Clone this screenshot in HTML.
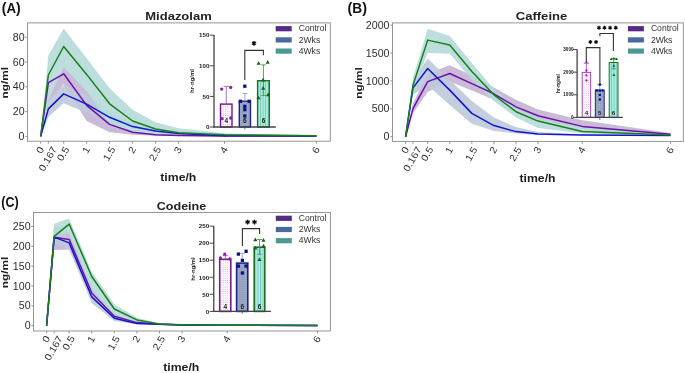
<!DOCTYPE html>
<html><head><meta charset="utf-8"><style>
html,body{margin:0;padding:0;background:#fff;width:685px;height:373px;overflow:hidden}
svg{display:block;will-change:transform}
text{font-family:"Liberation Sans", sans-serif}
</style></head><body>
<svg width="685" height="373" viewBox="0 0 685 373">
<rect width="685" height="373" fill="#fff"/>
<defs>
<pattern id="dotP" width="2.2" height="2.2" patternUnits="userSpaceOnUse"><rect width="2.2" height="2.2" fill="#fbf7fc"/><circle cx="1.1" cy="1.1" r="0.45" fill="#c9a6d6"/></pattern>
<pattern id="dotB" width="2.2" height="2.2" patternUnits="userSpaceOnUse"><rect width="2.2" height="2.2" fill="#96a2bd"/><circle cx="1.1" cy="1.1" r="0.45" fill="#b6c0d4"/></pattern>
<pattern id="strG" width="2.6" height="4" patternUnits="userSpaceOnUse"><rect width="2.6" height="4" fill="#a9ebe2"/><rect x="0" width="0.7" height="4" fill="#6fc3b6"/></pattern>
</defs>
<polygon points="40.7,136.4 48.37,98.95 63.68,66.22 86.65,90.77 109.63,123.38 132.6,131.44 155.57,133.92 178.55,134.91 224.5,135.78 316.4,136.03 316.4,136.28 224.5,136.15 178.55,136.03 155.57,135.78 132.6,134.66 109.63,132.31 86.65,121.02 63.68,84.32 48.37,102.92 40.7,136.4" fill="#c4b3d4" fill-opacity="0.9"/>
<polygon points="40.7,136.4 48.37,99.45 63.68,84.94 86.65,95.48 109.63,111.6 132.6,122.76 155.57,128.34 178.55,131.44 224.5,134.54 316.4,135.53 316.4,136.03 224.5,135.78 178.55,134.91 155.57,133.3 132.6,130.2 109.63,122.76 86.65,112.84 63.68,103.29 48.37,117.06 40.7,136.4" fill="#bdcada" fill-opacity="0.9"/>
<polygon points="40.7,136.4 48.37,55.18 63.68,28.52 86.65,58.28 109.63,88.29 132.6,109.86 155.57,122.14 178.55,128.22 224.5,133.3 316.4,135.16 316.4,136.03 224.5,135.9 178.55,135.16 155.57,134.54 132.6,132.06 109.63,124 86.65,91.39 63.68,66.59 48.37,99.7 40.7,136.4" fill="#b6dad9" fill-opacity="0.9"/>
<polyline points="40.7,136.4 48.37,82.71 63.68,73.78 86.65,105.4 109.63,124.37 132.6,132.31 155.57,134.66 178.55,135.41 224.5,136.03 316.4,136.03" fill="none" stroke="#6c12a8" stroke-width="1.5" stroke-linejoin="round"/>
<polyline points="40.7,136.4 48.37,108.87 63.68,93.87 86.65,104.16 109.63,117.3 132.6,126.6 155.57,131.07 178.55,133.42 224.5,135.78 316.4,135.9" fill="none" stroke="#1515cc" stroke-width="1.5" stroke-linejoin="round"/>
<polyline points="40.7,136.4 48.37,75.02 63.68,46.5 86.65,74.4 109.63,103.79 132.6,121.02 155.57,128.96 178.55,132.68 224.5,134.66 316.4,135.66" fill="none" stroke="#197f1c" stroke-width="1.5" stroke-linejoin="round"/>
<rect x="27.45" y="22.9" width="302.85" height="118.3" fill="none" stroke="#8a8a8a" stroke-width="0.9"/>
<line x1="25.25" y1="136.4" x2="27.45" y2="136.4" stroke="#8a8a8a" stroke-width="0.9"/>
<text x="24.55" y="140" font-size="10.0" text-anchor="end" fill="#2e2e2e" textLength="5.91" lengthAdjust="spacingAndGlyphs" >0</text>
<line x1="25.25" y1="111.6" x2="27.45" y2="111.6" stroke="#8a8a8a" stroke-width="0.9"/>
<text x="24.55" y="115.2" font-size="10.0" text-anchor="end" fill="#2e2e2e" textLength="11.83" lengthAdjust="spacingAndGlyphs" >20</text>
<line x1="25.25" y1="86.8" x2="27.45" y2="86.8" stroke="#8a8a8a" stroke-width="0.9"/>
<text x="24.55" y="90.4" font-size="10.0" text-anchor="end" fill="#2e2e2e" textLength="11.83" lengthAdjust="spacingAndGlyphs" >40</text>
<line x1="25.25" y1="62" x2="27.45" y2="62" stroke="#8a8a8a" stroke-width="0.9"/>
<text x="24.55" y="65.6" font-size="10.0" text-anchor="end" fill="#2e2e2e" textLength="11.83" lengthAdjust="spacingAndGlyphs" >60</text>
<line x1="25.25" y1="37.2" x2="27.45" y2="37.2" stroke="#8a8a8a" stroke-width="0.9"/>
<text x="24.55" y="40.8" font-size="10.0" text-anchor="end" fill="#2e2e2e" textLength="11.83" lengthAdjust="spacingAndGlyphs" >80</text>
<line x1="40.7" y1="141.2" x2="40.7" y2="143.7" stroke="#8a8a8a" stroke-width="0.9"/>
<text x="41.51" y="154.17" font-size="9.7" text-anchor="start" fill="#2e2e2e" textLength="5.91" lengthAdjust="spacingAndGlyphs" transform="rotate(-60 41.51 154.17)" >0</text>
<line x1="48.37" y1="141.2" x2="48.37" y2="143.7" stroke="#8a8a8a" stroke-width="0.9"/>
<text x="44.01" y="172.1" font-size="9.7" text-anchor="start" fill="#2e2e2e" textLength="26.62" lengthAdjust="spacingAndGlyphs" transform="rotate(-60 44.01 172.1)" >0.167</text>
<line x1="63.68" y1="141.2" x2="63.68" y2="143.7" stroke="#8a8a8a" stroke-width="0.9"/>
<text x="62.27" y="161.86" font-size="9.7" text-anchor="start" fill="#2e2e2e" textLength="14.79" lengthAdjust="spacingAndGlyphs" transform="rotate(-60 62.27 161.86)" >0.5</text>
<line x1="86.65" y1="141.2" x2="86.65" y2="143.7" stroke="#8a8a8a" stroke-width="0.9"/>
<text x="87.46" y="154.17" font-size="9.7" text-anchor="start" fill="#2e2e2e" textLength="5.91" lengthAdjust="spacingAndGlyphs" transform="rotate(-60 87.46 154.17)" >1</text>
<line x1="109.63" y1="141.2" x2="109.63" y2="143.7" stroke="#8a8a8a" stroke-width="0.9"/>
<text x="108.22" y="161.86" font-size="9.7" text-anchor="start" fill="#2e2e2e" textLength="14.79" lengthAdjust="spacingAndGlyphs" transform="rotate(-60 108.22 161.86)" >1.5</text>
<line x1="132.6" y1="141.2" x2="132.6" y2="143.7" stroke="#8a8a8a" stroke-width="0.9"/>
<text x="133.41" y="154.17" font-size="9.7" text-anchor="start" fill="#2e2e2e" textLength="5.91" lengthAdjust="spacingAndGlyphs" transform="rotate(-60 133.41 154.17)" >2</text>
<line x1="155.57" y1="141.2" x2="155.57" y2="143.7" stroke="#8a8a8a" stroke-width="0.9"/>
<text x="154.17" y="161.86" font-size="9.7" text-anchor="start" fill="#2e2e2e" textLength="14.79" lengthAdjust="spacingAndGlyphs" transform="rotate(-60 154.17 161.86)" >2.5</text>
<line x1="178.55" y1="141.2" x2="178.55" y2="143.7" stroke="#8a8a8a" stroke-width="0.9"/>
<text x="179.36" y="154.17" font-size="9.7" text-anchor="start" fill="#2e2e2e" textLength="5.91" lengthAdjust="spacingAndGlyphs" transform="rotate(-60 179.36 154.17)" >3</text>
<line x1="224.5" y1="141.2" x2="224.5" y2="143.7" stroke="#8a8a8a" stroke-width="0.9"/>
<text x="225.31" y="154.17" font-size="9.7" text-anchor="start" fill="#2e2e2e" textLength="5.91" lengthAdjust="spacingAndGlyphs" transform="rotate(-60 225.31 154.17)" >4</text>
<line x1="316.4" y1="141.2" x2="316.4" y2="143.7" stroke="#8a8a8a" stroke-width="0.9"/>
<text x="317.21" y="154.17" font-size="9.7" text-anchor="start" fill="#2e2e2e" textLength="5.91" lengthAdjust="spacingAndGlyphs" transform="rotate(-60 317.21 154.17)" >6</text>
<text x="8" y="82.8" font-size="9.2" text-anchor="middle" fill="#1e1e1e" font-weight="bold" textLength="31.4" lengthAdjust="spacingAndGlyphs" transform="rotate(-90 8 82.8)" >ng/ml</text>
<text x="178.3" y="181.2" font-size="11.2" text-anchor="middle" fill="#1e1e1e" font-weight="bold" textLength="36.1" lengthAdjust="spacingAndGlyphs" >time/h</text>
<text x="178.5" y="19.9" font-size="10.8" text-anchor="middle" fill="#222" font-weight="bold" textLength="66.4" lengthAdjust="spacingAndGlyphs" >Midazolam</text>
<text x="1.8" y="12.9" font-weight="bold" fill="#111" textLength="18.9" lengthAdjust="spacingAndGlyphs"><tspan font-size="14.8">(</tspan><tspan font-size="14">A</tspan><tspan font-size="14.8">)</tspan></text>
<rect x="275.7" y="26.1" width="16" height="5.2" fill="#542b85"/>
<text x="298.7" y="31.4" font-size="8.6" text-anchor="start" fill="#333" >Control</text>
<rect x="275.7" y="37.3" width="16" height="5.2" fill="#4a6a9c"/>
<text x="298.7" y="42.6" font-size="8.6" text-anchor="start" fill="#333" >2Wks</text>
<rect x="275.7" y="48.5" width="16" height="5.2" fill="#4a9a90"/>
<text x="298.7" y="53.8" font-size="8.6" text-anchor="start" fill="#333" >4Wks</text>
<polygon points="405.6,136.7 412.97,103.22 427.68,73.65 449.75,65.28 471.83,75.6 493.9,87.6 515.98,99.82 538.05,109.53 582.2,120.13 670.5,133.02 670.5,135.03 582.2,129.78 538.05,120.52 515.98,112.15 493.9,99.87 471.83,90.39 449.75,81.46 427.68,92.06 412.97,113.26 405.6,136.7" fill="#c4b3d4" fill-opacity="0.9"/>
<polygon points="405.6,136.7 412.97,80.9 427.68,58.58 449.75,79.78 471.83,100.99 493.9,117.5 515.98,127.1 538.05,131.9 582.2,134.3 670.5,135.03 670.5,135.7 582.2,135.58 538.05,135.03 515.98,133.52 493.9,131.12 471.83,123.87 449.75,104.89 427.68,85.36 412.97,94.85 405.6,136.7" fill="#bdcada" fill-opacity="0.9"/>
<polygon points="405.6,136.7 412.97,78.11 427.68,28.78 449.75,36.09 471.83,63.04 493.9,88.99 515.98,107.8 538.05,118.29 582.2,127.1 670.5,134.19 670.5,135.58 582.2,133.52 538.05,127.88 515.98,117.5 493.9,100.99 471.83,79.78 449.75,53.78 427.68,53 412.97,92.06 405.6,136.7" fill="#b6dad9" fill-opacity="0.9"/>
<polyline points="405.6,136.7 412.97,108.58 427.68,81.63 449.75,73.53 471.83,83.69 493.9,93.79 515.98,106.85 538.05,115.72 582.2,126.38 670.5,134.3" fill="none" stroke="#6c12a8" stroke-width="1.5" stroke-linejoin="round"/>
<polyline points="405.6,136.7 412.97,87.87 427.68,68.51 449.75,90.11 471.83,113.38 493.9,125.54 515.98,131.62 538.05,134.02 582.2,135.08 670.5,135.42" fill="none" stroke="#1515cc" stroke-width="1.5" stroke-linejoin="round"/>
<polyline points="405.6,136.7 412.97,85.31 427.68,40.11 449.75,44.91 471.83,71.41 493.9,94.85 515.98,111.7 538.05,121.08 582.2,131.51 670.5,135.03" fill="none" stroke="#197f1c" stroke-width="1.5" stroke-linejoin="round"/>
<rect x="392.45" y="22.9" width="290.85" height="118.5" fill="none" stroke="#8a8a8a" stroke-width="0.9"/>
<line x1="390.25" y1="136.7" x2="392.45" y2="136.7" stroke="#8a8a8a" stroke-width="0.9"/>
<text x="389.55" y="140.3" font-size="10.0" text-anchor="end" fill="#2e2e2e" textLength="5.91" lengthAdjust="spacingAndGlyphs" >0</text>
<line x1="390.25" y1="108.8" x2="392.45" y2="108.8" stroke="#8a8a8a" stroke-width="0.9"/>
<text x="389.55" y="112.4" font-size="10.0" text-anchor="end" fill="#2e2e2e" textLength="17.74" lengthAdjust="spacingAndGlyphs" >500</text>
<line x1="390.25" y1="80.9" x2="392.45" y2="80.9" stroke="#8a8a8a" stroke-width="0.9"/>
<text x="389.55" y="84.5" font-size="10.0" text-anchor="end" fill="#2e2e2e" textLength="23.66" lengthAdjust="spacingAndGlyphs" >1000</text>
<line x1="390.25" y1="53" x2="392.45" y2="53" stroke="#8a8a8a" stroke-width="0.9"/>
<text x="389.55" y="56.6" font-size="10.0" text-anchor="end" fill="#2e2e2e" textLength="23.66" lengthAdjust="spacingAndGlyphs" >1500</text>
<line x1="390.25" y1="25.1" x2="392.45" y2="25.1" stroke="#8a8a8a" stroke-width="0.9"/>
<text x="389.55" y="28.7" font-size="10.0" text-anchor="end" fill="#2e2e2e" textLength="23.66" lengthAdjust="spacingAndGlyphs" >2000</text>
<line x1="405.6" y1="141.4" x2="405.6" y2="143.9" stroke="#8a8a8a" stroke-width="0.9"/>
<text x="406.41" y="154.37" font-size="9.7" text-anchor="start" fill="#2e2e2e" textLength="5.91" lengthAdjust="spacingAndGlyphs" transform="rotate(-60 406.41 154.37)" >0</text>
<line x1="412.97" y1="141.4" x2="412.97" y2="143.9" stroke="#8a8a8a" stroke-width="0.9"/>
<text x="408.61" y="172.3" font-size="9.7" text-anchor="start" fill="#2e2e2e" textLength="26.62" lengthAdjust="spacingAndGlyphs" transform="rotate(-60 408.61 172.3)" >0.167</text>
<line x1="427.68" y1="141.4" x2="427.68" y2="143.9" stroke="#8a8a8a" stroke-width="0.9"/>
<text x="426.27" y="162.06" font-size="9.7" text-anchor="start" fill="#2e2e2e" textLength="14.79" lengthAdjust="spacingAndGlyphs" transform="rotate(-60 426.27 162.06)" >0.5</text>
<line x1="449.75" y1="141.4" x2="449.75" y2="143.9" stroke="#8a8a8a" stroke-width="0.9"/>
<text x="450.56" y="154.37" font-size="9.7" text-anchor="start" fill="#2e2e2e" textLength="5.91" lengthAdjust="spacingAndGlyphs" transform="rotate(-60 450.56 154.37)" >1</text>
<line x1="471.83" y1="141.4" x2="471.83" y2="143.9" stroke="#8a8a8a" stroke-width="0.9"/>
<text x="470.42" y="162.06" font-size="9.7" text-anchor="start" fill="#2e2e2e" textLength="14.79" lengthAdjust="spacingAndGlyphs" transform="rotate(-60 470.42 162.06)" >1.5</text>
<line x1="493.9" y1="141.4" x2="493.9" y2="143.9" stroke="#8a8a8a" stroke-width="0.9"/>
<text x="494.71" y="154.37" font-size="9.7" text-anchor="start" fill="#2e2e2e" textLength="5.91" lengthAdjust="spacingAndGlyphs" transform="rotate(-60 494.71 154.37)" >2</text>
<line x1="515.98" y1="141.4" x2="515.98" y2="143.9" stroke="#8a8a8a" stroke-width="0.9"/>
<text x="514.57" y="162.06" font-size="9.7" text-anchor="start" fill="#2e2e2e" textLength="14.79" lengthAdjust="spacingAndGlyphs" transform="rotate(-60 514.57 162.06)" >2.5</text>
<line x1="538.05" y1="141.4" x2="538.05" y2="143.9" stroke="#8a8a8a" stroke-width="0.9"/>
<text x="538.86" y="154.37" font-size="9.7" text-anchor="start" fill="#2e2e2e" textLength="5.91" lengthAdjust="spacingAndGlyphs" transform="rotate(-60 538.86 154.37)" >3</text>
<line x1="582.2" y1="141.4" x2="582.2" y2="143.9" stroke="#8a8a8a" stroke-width="0.9"/>
<text x="583.01" y="154.37" font-size="9.7" text-anchor="start" fill="#2e2e2e" textLength="5.91" lengthAdjust="spacingAndGlyphs" transform="rotate(-60 583.01 154.37)" >4</text>
<line x1="670.5" y1="141.4" x2="670.5" y2="143.9" stroke="#8a8a8a" stroke-width="0.9"/>
<text x="671.31" y="154.37" font-size="9.7" text-anchor="start" fill="#2e2e2e" textLength="5.91" lengthAdjust="spacingAndGlyphs" transform="rotate(-60 671.31 154.37)" >6</text>
<text x="361.9" y="83" font-size="9.2" text-anchor="middle" fill="#1e1e1e" font-weight="bold" textLength="31.4" lengthAdjust="spacingAndGlyphs" transform="rotate(-90 361.9 83)" >ng/ml</text>
<text x="537.5" y="181.5" font-size="11.2" text-anchor="middle" fill="#1e1e1e" font-weight="bold" textLength="36.1" lengthAdjust="spacingAndGlyphs" >time/h</text>
<text x="541.5" y="20.2" font-size="10.8" text-anchor="middle" fill="#222" font-weight="bold" textLength="51.5" lengthAdjust="spacingAndGlyphs" >Caffeine</text>
<text x="347.5" y="12.7" font-weight="bold" fill="#111" textLength="19.5" lengthAdjust="spacingAndGlyphs"><tspan font-size="14.8">(</tspan><tspan font-size="14">B</tspan><tspan font-size="14.8">)</tspan></text>
<rect x="627.9" y="26.1" width="16" height="5.2" fill="#542b85"/>
<text x="650.9" y="31.4" font-size="8.6" text-anchor="start" fill="#333" >Control</text>
<rect x="627.9" y="37.3" width="16" height="5.2" fill="#4a6a9c"/>
<text x="650.9" y="42.6" font-size="8.6" text-anchor="start" fill="#333" >2Wks</text>
<rect x="627.9" y="48.5" width="16" height="5.2" fill="#4a9a90"/>
<text x="650.9" y="53.8" font-size="8.6" text-anchor="start" fill="#333" >4Wks</text>
<polygon points="46.6,325.7 54.14,225.26 69.17,232.21 91.75,287.99 114.32,313.79 136.9,321.73 159.47,323.71 182.05,324.71 227.2,325.22 317.5,325.46 317.5,325.54 227.2,325.38 182.05,325.1 159.47,324.71 136.9,323.52 114.32,318.55 91.75,297.91 69.17,249.48 54.14,250.03 46.6,325.7" fill="#c4b3d4" fill-opacity="0.9"/>
<polygon points="46.6,325.7 54.14,230.42 69.17,236.38 91.75,290.76 114.32,315.38 136.9,322.52 159.47,323.91 182.05,324.71 227.2,325.22 317.5,325.46 317.5,325.54 227.2,325.38 182.05,325.1 159.47,324.71 136.9,324.31 114.32,320.94 91.75,303.31 69.17,249.48 54.14,243.92 46.6,325.7" fill="#bdcada" fill-opacity="0.9"/>
<polygon points="46.6,325.7 54.14,223.67 69.17,218.51 91.75,271.71 114.32,304.26 136.9,317.76 159.47,323.32 182.05,324.51 227.2,325.22 317.5,325.46 317.5,325.54 227.2,325.38 182.05,325.1 159.47,324.71 136.9,322.52 114.32,315.77 91.75,291.56 69.17,233.6 54.14,235.98 46.6,325.7" fill="#b6dad9" fill-opacity="0.9"/>
<polyline points="46.6,325.7 54.14,237.29 69.17,239.39 91.75,292.91 114.32,316.17 136.9,322.6 159.47,324.19 182.05,324.91 227.2,325.3 317.5,325.5" fill="none" stroke="#6c12a8" stroke-width="1.5" stroke-linejoin="round"/>
<polyline points="46.6,325.7 54.14,237.17 69.17,242.89 91.75,296.92 114.32,318.16 136.9,323.4 159.47,324.31 182.05,324.91 227.2,325.3 317.5,325.5" fill="none" stroke="#1515cc" stroke-width="1.5" stroke-linejoin="round"/>
<polyline points="46.6,325.7 54.14,236.38 69.17,224.07 91.75,276.47 114.32,309.03 136.9,319.9 159.47,324.11 182.05,324.71 227.2,325.3 317.5,325.5" fill="none" stroke="#197f1c" stroke-width="1.5" stroke-linejoin="round"/>
<rect x="33.5" y="212.5" width="296.9" height="118.5" fill="none" stroke="#8a8a8a" stroke-width="0.9"/>
<line x1="31.3" y1="325.7" x2="33.5" y2="325.7" stroke="#8a8a8a" stroke-width="0.9"/>
<text x="30.6" y="329.3" font-size="10.0" text-anchor="end" fill="#2e2e2e" textLength="5.91" lengthAdjust="spacingAndGlyphs" >0</text>
<line x1="31.3" y1="305.85" x2="33.5" y2="305.85" stroke="#8a8a8a" stroke-width="0.9"/>
<text x="30.6" y="309.45" font-size="10.0" text-anchor="end" fill="#2e2e2e" textLength="11.83" lengthAdjust="spacingAndGlyphs" >50</text>
<line x1="31.3" y1="286" x2="33.5" y2="286" stroke="#8a8a8a" stroke-width="0.9"/>
<text x="30.6" y="289.6" font-size="10.0" text-anchor="end" fill="#2e2e2e" textLength="17.74" lengthAdjust="spacingAndGlyphs" >100</text>
<line x1="31.3" y1="266.15" x2="33.5" y2="266.15" stroke="#8a8a8a" stroke-width="0.9"/>
<text x="30.6" y="269.75" font-size="10.0" text-anchor="end" fill="#2e2e2e" textLength="17.74" lengthAdjust="spacingAndGlyphs" >150</text>
<line x1="31.3" y1="246.3" x2="33.5" y2="246.3" stroke="#8a8a8a" stroke-width="0.9"/>
<text x="30.6" y="249.9" font-size="10.0" text-anchor="end" fill="#2e2e2e" textLength="17.74" lengthAdjust="spacingAndGlyphs" >200</text>
<line x1="31.3" y1="226.45" x2="33.5" y2="226.45" stroke="#8a8a8a" stroke-width="0.9"/>
<text x="30.6" y="230.05" font-size="10.0" text-anchor="end" fill="#2e2e2e" textLength="17.74" lengthAdjust="spacingAndGlyphs" >250</text>
<line x1="46.6" y1="331" x2="46.6" y2="333.5" stroke="#8a8a8a" stroke-width="0.9"/>
<text x="47.41" y="343.37" font-size="9.7" text-anchor="start" fill="#2e2e2e" textLength="5.91" lengthAdjust="spacingAndGlyphs" transform="rotate(-60 47.41 343.37)" >0</text>
<line x1="54.14" y1="331" x2="54.14" y2="333.5" stroke="#8a8a8a" stroke-width="0.9"/>
<text x="49.77" y="361.3" font-size="9.7" text-anchor="start" fill="#2e2e2e" textLength="26.62" lengthAdjust="spacingAndGlyphs" transform="rotate(-60 49.77 361.3)" >0.167</text>
<line x1="69.17" y1="331" x2="69.17" y2="333.5" stroke="#8a8a8a" stroke-width="0.9"/>
<text x="67.77" y="351.06" font-size="9.7" text-anchor="start" fill="#2e2e2e" textLength="14.79" lengthAdjust="spacingAndGlyphs" transform="rotate(-60 67.77 351.06)" >0.5</text>
<line x1="91.75" y1="331" x2="91.75" y2="333.5" stroke="#8a8a8a" stroke-width="0.9"/>
<text x="92.56" y="343.37" font-size="9.7" text-anchor="start" fill="#2e2e2e" textLength="5.91" lengthAdjust="spacingAndGlyphs" transform="rotate(-60 92.56 343.37)" >1</text>
<line x1="114.32" y1="331" x2="114.32" y2="333.5" stroke="#8a8a8a" stroke-width="0.9"/>
<text x="112.92" y="351.06" font-size="9.7" text-anchor="start" fill="#2e2e2e" textLength="14.79" lengthAdjust="spacingAndGlyphs" transform="rotate(-60 112.92 351.06)" >1.5</text>
<line x1="136.9" y1="331" x2="136.9" y2="333.5" stroke="#8a8a8a" stroke-width="0.9"/>
<text x="137.71" y="343.37" font-size="9.7" text-anchor="start" fill="#2e2e2e" textLength="5.91" lengthAdjust="spacingAndGlyphs" transform="rotate(-60 137.71 343.37)" >2</text>
<line x1="159.47" y1="331" x2="159.47" y2="333.5" stroke="#8a8a8a" stroke-width="0.9"/>
<text x="158.07" y="351.06" font-size="9.7" text-anchor="start" fill="#2e2e2e" textLength="14.79" lengthAdjust="spacingAndGlyphs" transform="rotate(-60 158.07 351.06)" >2.5</text>
<line x1="182.05" y1="331" x2="182.05" y2="333.5" stroke="#8a8a8a" stroke-width="0.9"/>
<text x="182.86" y="343.37" font-size="9.7" text-anchor="start" fill="#2e2e2e" textLength="5.91" lengthAdjust="spacingAndGlyphs" transform="rotate(-60 182.86 343.37)" >3</text>
<line x1="227.2" y1="331" x2="227.2" y2="333.5" stroke="#8a8a8a" stroke-width="0.9"/>
<text x="228.01" y="343.37" font-size="9.7" text-anchor="start" fill="#2e2e2e" textLength="5.91" lengthAdjust="spacingAndGlyphs" transform="rotate(-60 228.01 343.37)" >4</text>
<line x1="317.5" y1="331" x2="317.5" y2="333.5" stroke="#8a8a8a" stroke-width="0.9"/>
<text x="318.31" y="343.37" font-size="9.7" text-anchor="start" fill="#2e2e2e" textLength="5.91" lengthAdjust="spacingAndGlyphs" transform="rotate(-60 318.31 343.37)" >6</text>
<text x="8" y="272.45" font-size="9.2" text-anchor="middle" fill="#1e1e1e" font-weight="bold" textLength="31.4" lengthAdjust="spacingAndGlyphs" transform="rotate(-90 8 272.45)" >ng/ml</text>
<text x="181.25" y="370.8" font-size="11.2" text-anchor="middle" fill="#1e1e1e" font-weight="bold" textLength="36.1" lengthAdjust="spacingAndGlyphs" >time/h</text>
<text x="181.5" y="209.9" font-size="10.8" text-anchor="middle" fill="#222" font-weight="bold" textLength="49.6" lengthAdjust="spacingAndGlyphs" >Codeine</text>
<text x="1.2" y="206.5" font-weight="bold" fill="#111" textLength="17.4" lengthAdjust="spacingAndGlyphs"><tspan font-size="14.8">(</tspan><tspan font-size="14.6">C</tspan><tspan font-size="14.8">)</tspan></text>
<rect x="275.8" y="215.7" width="16" height="5.2" fill="#542b85"/>
<text x="298.8" y="221" font-size="8.6" text-anchor="start" fill="#333" >Control</text>
<rect x="275.8" y="226.9" width="16" height="5.2" fill="#4a6a9c"/>
<text x="298.8" y="232.2" font-size="8.6" text-anchor="start" fill="#333" >2Wks</text>
<rect x="275.8" y="238.1" width="16" height="5.2" fill="#4a9a90"/>
<text x="298.8" y="243.4" font-size="8.6" text-anchor="start" fill="#333" >4Wks</text>
<rect x="220.5" y="104.1" width="11.5" height="22.9" fill="url(#dotP)" stroke="#74168a" stroke-width="1.4"/>
<rect x="239.3" y="101.2" width="11.2" height="25.8" fill="url(#dotB)" stroke="#1c2585" stroke-width="1.4"/>
<rect x="257.6" y="80.7" width="11.7" height="46.3" fill="url(#strG)" stroke="#1f6e22" stroke-width="1.4"/>
<line x1="226.25" y1="104.1" x2="226.25" y2="86.4" stroke="#9a4aaa" stroke-width="0.8"/>
<line x1="223.65" y1="86.4" x2="228.85" y2="86.4" stroke="#9a4aaa" stroke-width="0.8"/>
<line x1="244.9" y1="101.2" x2="244.9" y2="93.5" stroke="#8a96c0" stroke-width="0.8"/>
<line x1="242.3" y1="93.5" x2="247.5" y2="93.5" stroke="#8a96c0" stroke-width="0.8"/>
<line x1="263.45" y1="80.7" x2="263.45" y2="64.9" stroke="#3a8a3a" stroke-width="0.8"/>
<line x1="260.85" y1="64.9" x2="266.05" y2="64.9" stroke="#3a8a3a" stroke-width="0.8"/>
<line x1="263.45" y1="80.7" x2="263.45" y2="95.4" stroke="#3a8a3a" stroke-width="0.7"/>
<line x1="261.05" y1="95.4" x2="265.85" y2="95.4" stroke="#3a8a3a" stroke-width="0.7"/>
<circle cx="221.7" cy="89.1" r="1.65" fill="#8b1fa0"/>
<circle cx="230.7" cy="87.4" r="1.65" fill="#8b1fa0"/>
<circle cx="222.1" cy="118.7" r="1.65" fill="#8b1fa0"/>
<circle cx="230.7" cy="118" r="1.65" fill="#8b1fa0"/>
<rect x="243.15" y="84.55" width="3.3" height="3.3" fill="#0b1486"/>
<rect x="238.75" y="99.65" width="3.3" height="3.3" fill="#0b1486"/>
<rect x="247.55" y="99.65" width="3.3" height="3.3" fill="#0b1486"/>
<rect x="243.15" y="104.65" width="3.3" height="3.3" fill="#0b1486"/>
<rect x="243.15" y="108.05" width="3.3" height="3.3" fill="#0b1486"/>
<rect x="243.15" y="114.35" width="3.3" height="3.3" fill="#0b1486"/>
<polygon points="258.6,61.14 256.54,64.86 260.66,64.86" fill="#136313"/>
<polygon points="267.7,59.94 265.64,63.66 269.76,63.66" fill="#136313"/>
<polygon points="263.2,77.74 261.14,81.46 265.26,81.46" fill="#136313"/>
<polygon points="263.2,85.94 261.14,89.66 265.26,89.66" fill="#136313"/>
<polygon points="258.5,95.64 256.44,99.36 260.56,99.36" fill="#136313"/>
<polygon points="268,92.54 265.94,96.26 270.06,96.26" fill="#136313"/>
<line x1="214" y1="35" x2="214" y2="127.6" stroke="#333" stroke-width="1.2"/>
<line x1="213.4" y1="127" x2="275.8" y2="127" stroke="#444" stroke-width="1.3"/>
<line x1="244.9" y1="127" x2="244.9" y2="129.4" stroke="#444" stroke-width="0.8"/>
<line x1="209.8" y1="127" x2="214" y2="127" stroke="#333" stroke-width="0.9"/>
<text x="209.4" y="129.23" font-size="6.2" text-anchor="end" fill="#222" font-weight="bold" >0</text>
<line x1="209.8" y1="96.4" x2="214" y2="96.4" stroke="#333" stroke-width="0.9"/>
<text x="209.4" y="98.63" font-size="6.2" text-anchor="end" fill="#222" font-weight="bold" >50</text>
<line x1="209.8" y1="65.8" x2="214" y2="65.8" stroke="#333" stroke-width="0.9"/>
<text x="209.4" y="68.03" font-size="6.2" text-anchor="end" fill="#222" font-weight="bold" >100</text>
<line x1="209.8" y1="35.2" x2="214" y2="35.2" stroke="#333" stroke-width="0.9"/>
<text x="209.4" y="37.43" font-size="6.2" text-anchor="end" fill="#222" font-weight="bold" >150</text>
<text x="226.25" y="123.3" font-size="6.5" text-anchor="middle" fill="#222" font-weight="bold" >4</text>
<text x="244.9" y="123.3" font-size="6.5" text-anchor="middle" fill="#222" font-weight="bold" >6</text>
<text x="263.45" y="123.3" font-size="6.5" text-anchor="middle" fill="#222" font-weight="bold" >6</text>
<text x="193.6" y="81" font-size="5.6" text-anchor="middle" fill="#222" font-weight="bold" textLength="24" lengthAdjust="spacingAndGlyphs" transform="rotate(-90 193.6 81)" >hr·ng/ml</text>
<polyline points="244.8,80 244.8,50.4 263.4,50.4 263.4,55.3" fill="none" stroke="#333" stroke-width="1.1"/>
<path d="M254,40.9L254,45.7M251.92,42.1L256.08,44.5M251.92,44.5L256.08,42.1" stroke="#0a0a0a" stroke-width="1.32" fill="none"/>
<circle cx="254" cy="43.3" r="1.2" fill="#0a0a0a"/>
<rect x="582.2" y="72.4" width="8.4" height="45" fill="url(#dotP)" stroke="#a04cb0" stroke-width="1.0"/>
<rect x="595.3" y="90.2" width="8.9" height="27.2" fill="url(#dotB)" stroke="#1c2585" stroke-width="1.0"/>
<rect x="609.2" y="62.5" width="8.8" height="54.9" fill="url(#strG)" stroke="#1f6e22" stroke-width="1.0"/>
<line x1="586.4" y1="72.4" x2="586.4" y2="63.3" stroke="#9a4aaa" stroke-width="0.8"/>
<line x1="583.8" y1="63.3" x2="589" y2="63.3" stroke="#9a4aaa" stroke-width="0.8"/>
<line x1="599.75" y1="90.2" x2="599.75" y2="84.5" stroke="#8a96c0" stroke-width="0.8"/>
<line x1="597.15" y1="84.5" x2="602.35" y2="84.5" stroke="#8a96c0" stroke-width="0.8"/>
<line x1="613.6" y1="62.5" x2="613.6" y2="58.4" stroke="#3a8a3a" stroke-width="0.8"/>
<line x1="611" y1="58.4" x2="616.2" y2="58.4" stroke="#3a8a3a" stroke-width="0.8"/>
<line x1="613.6" y1="62.5" x2="613.6" y2="68.8" stroke="#3a8a3a" stroke-width="0.7"/>
<line x1="611.2" y1="68.8" x2="616" y2="68.8" stroke="#3a8a3a" stroke-width="0.7"/>
<circle cx="586.4" cy="62.2" r="1.15" fill="#8b1fa0"/>
<circle cx="586.4" cy="70.5" r="1.15" fill="#8b1fa0"/>
<circle cx="586.4" cy="75.4" r="1.15" fill="#8b1fa0"/>
<circle cx="586.4" cy="80.4" r="1.15" fill="#8b1fa0"/>
<rect x="598.65" y="83.45" width="2.3" height="2.3" fill="#0b1486"/>
<rect x="595.65" y="89.25" width="2.3" height="2.3" fill="#0b1486"/>
<rect x="601.45" y="89.25" width="2.3" height="2.3" fill="#0b1486"/>
<rect x="598.65" y="89.45" width="2.3" height="2.3" fill="#0b1486"/>
<rect x="598.65" y="93.75" width="2.3" height="2.3" fill="#0b1486"/>
<rect x="598.65" y="98.35" width="2.3" height="2.3" fill="#0b1486"/>
<polygon points="611.2,57.41 609.76,59.99 612.64,59.99" fill="#136313"/>
<polygon points="613.9,56.91 612.46,59.49 615.34,59.49" fill="#136313"/>
<polygon points="616.5,57.41 615.06,59.99 617.94,59.99" fill="#136313"/>
<polygon points="613.9,64.21 612.46,66.79 615.34,66.79" fill="#136313"/>
<polygon points="613.9,73.31 612.46,75.89 615.34,75.89" fill="#136313"/>
<line x1="577.1" y1="49.5" x2="577.1" y2="118" stroke="#333" stroke-width="1.2"/>
<line x1="576.5" y1="117.4" x2="622.8" y2="117.4" stroke="#444" stroke-width="1.3"/>
<line x1="599.75" y1="117.4" x2="599.75" y2="119.8" stroke="#444" stroke-width="0.8"/>
<line x1="572.9" y1="117.4" x2="577.1" y2="117.4" stroke="#333" stroke-width="0.9"/>
<text x="573.5" y="119.06" font-size="4.6" text-anchor="end" fill="#222" font-weight="bold" >0</text>
<line x1="572.9" y1="94.78" x2="577.1" y2="94.78" stroke="#333" stroke-width="0.9"/>
<text x="573.5" y="96.44" font-size="4.6" text-anchor="end" fill="#222" font-weight="bold" >1000</text>
<line x1="572.9" y1="72.16" x2="577.1" y2="72.16" stroke="#333" stroke-width="0.9"/>
<text x="573.5" y="73.82" font-size="4.6" text-anchor="end" fill="#222" font-weight="bold" >2000</text>
<line x1="572.9" y1="49.54" x2="577.1" y2="49.54" stroke="#333" stroke-width="0.9"/>
<text x="573.5" y="51.2" font-size="4.6" text-anchor="end" fill="#222" font-weight="bold" >3000</text>
<text x="586.4" y="115.2" font-size="6.2" text-anchor="middle" fill="#222" font-weight="bold" >4</text>
<text x="599.75" y="115.2" font-size="6.2" text-anchor="middle" fill="#222" font-weight="bold" >5</text>
<text x="613.6" y="115.2" font-size="6.2" text-anchor="middle" fill="#222" font-weight="bold" >6</text>
<text x="559.9" y="83.6" font-size="5.0" text-anchor="middle" fill="#222" font-weight="bold" textLength="19" lengthAdjust="spacingAndGlyphs" transform="rotate(-90 559.9 83.6)" >hr·ng/ml</text>
<polyline points="586.3,61 586.3,47.6 599.9,47.6 599.9,84" fill="none" stroke="#333" stroke-width="1.1"/>
<path d="M590.4,39.9L590.4,43.9M588.67,40.9L592.13,42.9M588.67,42.9L592.13,40.9" stroke="#0a0a0a" stroke-width="1.1" fill="none"/>
<circle cx="590.4" cy="41.9" r="1" fill="#0a0a0a"/>
<path d="M596.1,39.9L596.1,43.9M594.37,40.9L597.83,42.9M594.37,42.9L597.83,40.9" stroke="#0a0a0a" stroke-width="1.1" fill="none"/>
<circle cx="596.1" cy="41.9" r="1" fill="#0a0a0a"/>
<polyline points="599.9,36.2 599.9,33.5 613.4,33.5 613.4,50.9" fill="none" stroke="#333" stroke-width="1.1"/>
<path d="M599,25.8L599,29.8M597.27,26.8L600.73,28.8M597.27,28.8L600.73,26.8" stroke="#0a0a0a" stroke-width="1.1" fill="none"/>
<circle cx="599" cy="27.8" r="1" fill="#0a0a0a"/>
<path d="M604.5,25.8L604.5,29.8M602.77,26.8L606.23,28.8M602.77,28.8L606.23,26.8" stroke="#0a0a0a" stroke-width="1.1" fill="none"/>
<circle cx="604.5" cy="27.8" r="1" fill="#0a0a0a"/>
<path d="M610.1,25.8L610.1,29.8M608.37,26.8L611.83,28.8M608.37,28.8L611.83,26.8" stroke="#0a0a0a" stroke-width="1.1" fill="none"/>
<circle cx="610.1" cy="27.8" r="1" fill="#0a0a0a"/>
<path d="M615.8,25.8L615.8,29.8M614.07,26.8L617.53,28.8M614.07,28.8L617.53,26.8" stroke="#0a0a0a" stroke-width="1.1" fill="none"/>
<circle cx="615.8" cy="27.8" r="1" fill="#0a0a0a"/>
<rect x="219.7" y="259.3" width="11.1" height="52.1" fill="url(#dotP)" stroke="#7e1a92" stroke-width="1.6"/>
<rect x="236.6" y="263.1" width="11.2" height="48.3" fill="url(#dotB)" stroke="#1c2585" stroke-width="1.6"/>
<rect x="254.2" y="247.2" width="10.6" height="64.2" fill="url(#strG)" stroke="#1f6e22" stroke-width="1.6"/>
<line x1="225.25" y1="259.3" x2="225.25" y2="255.4" stroke="#9a4aaa" stroke-width="0.8"/>
<line x1="222.65" y1="255.4" x2="227.85" y2="255.4" stroke="#9a4aaa" stroke-width="0.8"/>
<line x1="242.2" y1="263.1" x2="242.2" y2="253.4" stroke="#8a96c0" stroke-width="0.8"/>
<line x1="239.6" y1="253.4" x2="244.8" y2="253.4" stroke="#8a96c0" stroke-width="0.8"/>
<line x1="259.5" y1="247.2" x2="259.5" y2="239.5" stroke="#3a8a3a" stroke-width="0.8"/>
<line x1="256.9" y1="239.5" x2="262.1" y2="239.5" stroke="#3a8a3a" stroke-width="0.8"/>
<line x1="259.5" y1="247.2" x2="259.5" y2="254.3" stroke="#3a8a3a" stroke-width="0.7"/>
<line x1="257.1" y1="254.3" x2="261.9" y2="254.3" stroke="#3a8a3a" stroke-width="0.7"/>
<circle cx="224.7" cy="254.1" r="1.65" fill="#8b1fa0"/>
<circle cx="220.4" cy="258" r="1.65" fill="#8b1fa0"/>
<circle cx="229.8" cy="259" r="1.65" fill="#8b1fa0"/>
<rect x="236.75" y="252.45" width="3.3" height="3.3" fill="#0b1486"/>
<rect x="244.45" y="249.65" width="3.3" height="3.3" fill="#0b1486"/>
<rect x="240.75" y="258.75" width="3.3" height="3.3" fill="#0b1486"/>
<rect x="236.75" y="264.45" width="3.3" height="3.3" fill="#0b1486"/>
<rect x="244.45" y="264.45" width="3.3" height="3.3" fill="#0b1486"/>
<rect x="240.75" y="271.35" width="3.3" height="3.3" fill="#0b1486"/>
<polygon points="255.3,237.44 253.24,241.16 257.36,241.16" fill="#136313"/>
<polygon points="263.5,237.94 261.44,241.66 265.56,241.66" fill="#136313"/>
<polygon points="263.5,243.84 261.44,247.56 265.56,247.56" fill="#136313"/>
<polygon points="255.3,245.74 253.24,249.46 257.36,249.46" fill="#136313"/>
<polygon points="259.5,257.24 257.44,260.96 261.56,260.96" fill="#136313"/>
<line x1="213.8" y1="226.1" x2="213.8" y2="312" stroke="#333" stroke-width="1.2"/>
<line x1="213.2" y1="311.4" x2="270.9" y2="311.4" stroke="#444" stroke-width="1.3"/>
<line x1="242.2" y1="311.4" x2="242.2" y2="313.8" stroke="#444" stroke-width="0.8"/>
<line x1="209.6" y1="311.4" x2="213.8" y2="311.4" stroke="#333" stroke-width="0.9"/>
<text x="209.2" y="313.63" font-size="6.2" text-anchor="end" fill="#222" font-weight="bold" >0</text>
<line x1="209.6" y1="294.34" x2="213.8" y2="294.34" stroke="#333" stroke-width="0.9"/>
<text x="209.2" y="296.57" font-size="6.2" text-anchor="end" fill="#222" font-weight="bold" >50</text>
<line x1="209.6" y1="277.28" x2="213.8" y2="277.28" stroke="#333" stroke-width="0.9"/>
<text x="209.2" y="279.51" font-size="6.2" text-anchor="end" fill="#222" font-weight="bold" >100</text>
<line x1="209.6" y1="260.22" x2="213.8" y2="260.22" stroke="#333" stroke-width="0.9"/>
<text x="209.2" y="262.45" font-size="6.2" text-anchor="end" fill="#222" font-weight="bold" >150</text>
<line x1="209.6" y1="243.16" x2="213.8" y2="243.16" stroke="#333" stroke-width="0.9"/>
<text x="209.2" y="245.39" font-size="6.2" text-anchor="end" fill="#222" font-weight="bold" >200</text>
<line x1="209.6" y1="226.1" x2="213.8" y2="226.1" stroke="#333" stroke-width="0.9"/>
<text x="209.2" y="228.33" font-size="6.2" text-anchor="end" fill="#222" font-weight="bold" >250</text>
<text x="225.25" y="309" font-size="6.5" text-anchor="middle" fill="#222" font-weight="bold" >4</text>
<text x="242.2" y="309" font-size="6.5" text-anchor="middle" fill="#222" font-weight="bold" >6</text>
<text x="259.5" y="309" font-size="6.5" text-anchor="middle" fill="#222" font-weight="bold" >6</text>
<text x="194.9" y="269" font-size="5.6" text-anchor="middle" fill="#222" font-weight="bold" textLength="23.3" lengthAdjust="spacingAndGlyphs" transform="rotate(-90 194.9 269)" >hr·ng/ml</text>
<polyline points="242.4,246 242.4,228.6 259.6,228.6 259.6,234" fill="none" stroke="#333" stroke-width="1.1"/>
<path d="M247.6,219.7L247.6,224.5M245.52,220.9L249.68,223.3M245.52,223.3L249.68,220.9" stroke="#0a0a0a" stroke-width="1.32" fill="none"/>
<circle cx="247.6" cy="222.1" r="1.2" fill="#0a0a0a"/>
<path d="M254.5,219.7L254.5,224.5M252.42,220.9L256.58,223.3M252.42,223.3L256.58,220.9" stroke="#0a0a0a" stroke-width="1.32" fill="none"/>
<circle cx="254.5" cy="222.1" r="1.2" fill="#0a0a0a"/>
</svg>
</body></html>
